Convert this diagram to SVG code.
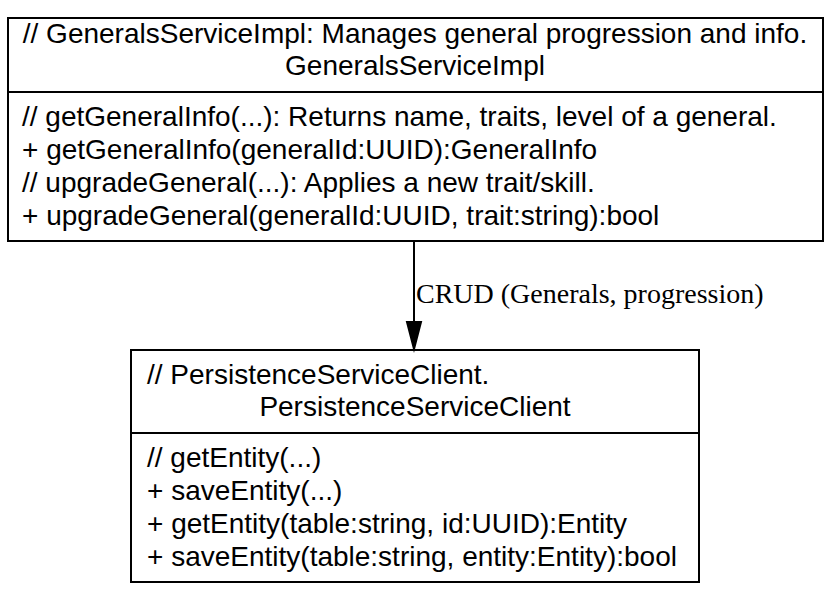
<svg xmlns="http://www.w3.org/2000/svg" width="832" height="592" viewBox="0 0 832 592">
<defs>
<style>
.box{fill:#fff;stroke:#000;stroke-width:2}
.div{stroke:#000;stroke-width:2}
.t{font-family:"Liberation Sans",Arial,sans-serif;font-size:28px;fill:#000}
.c{text-anchor:middle}
.lbl{font-family:"Liberation Serif","Times New Roman",serif;font-size:28px;fill:#000}
</style>
</defs>
<rect width="832" height="592" fill="#fff"/>
<g id="GeneralsServiceImpl">
<rect class="box" x="8" y="18" width="815" height="223"/>
<line class="div" x1="8" y1="92" x2="823" y2="92"/>
<text class="t c" x="415" y="43">// GeneralsServiceImpl: Manages general progression and info.</text>
<text class="t c" x="415" y="75">GeneralsServiceImpl</text>
<text class="t" x="22" y="126">// getGeneralInfo(...): Returns name, traits, level of a general.</text>
<text class="t" x="22" y="159">+ getGeneralInfo(generalId:UUID):GeneralInfo</text>
<text class="t" x="22" y="192">// upgradeGeneral(...): Applies a new trait/skill.</text>
<text class="t" x="22" y="225">+ upgradeGeneral(generalId:UUID, trait:string):bool</text>
</g>
<g id="PersistenceServiceClient">
<rect class="box" x="131" y="350" width="568" height="232"/>
<line class="div" x1="131" y1="433" x2="699" y2="433"/>
<text class="t" x="147" y="384">// PersistenceServiceClient.</text>
<text class="t c" x="415" y="416">PersistenceServiceClient</text>
<text class="t" x="147" y="467">// getEntity(...)</text>
<text class="t" x="147" y="500">+ saveEntity(...)</text>
<text class="t" x="147" y="533">+ getEntity(table:string, id:UUID):Entity</text>
<text class="t" x="147" y="566">+ saveEntity(table:string, entity:Entity):bool</text>
</g>
<g id="connectors">
<g id="edge1">
<path d="M414,241 L414,322" stroke="#000" stroke-width="2" fill="none"/>
<path d="M407,322 L421,322 L414,349 Z" fill="#000" stroke="#000" stroke-width="2"/>
<text class="lbl" x="416" y="303">CRUD (Generals, progression)</text>
</g>
</g>
</svg>
